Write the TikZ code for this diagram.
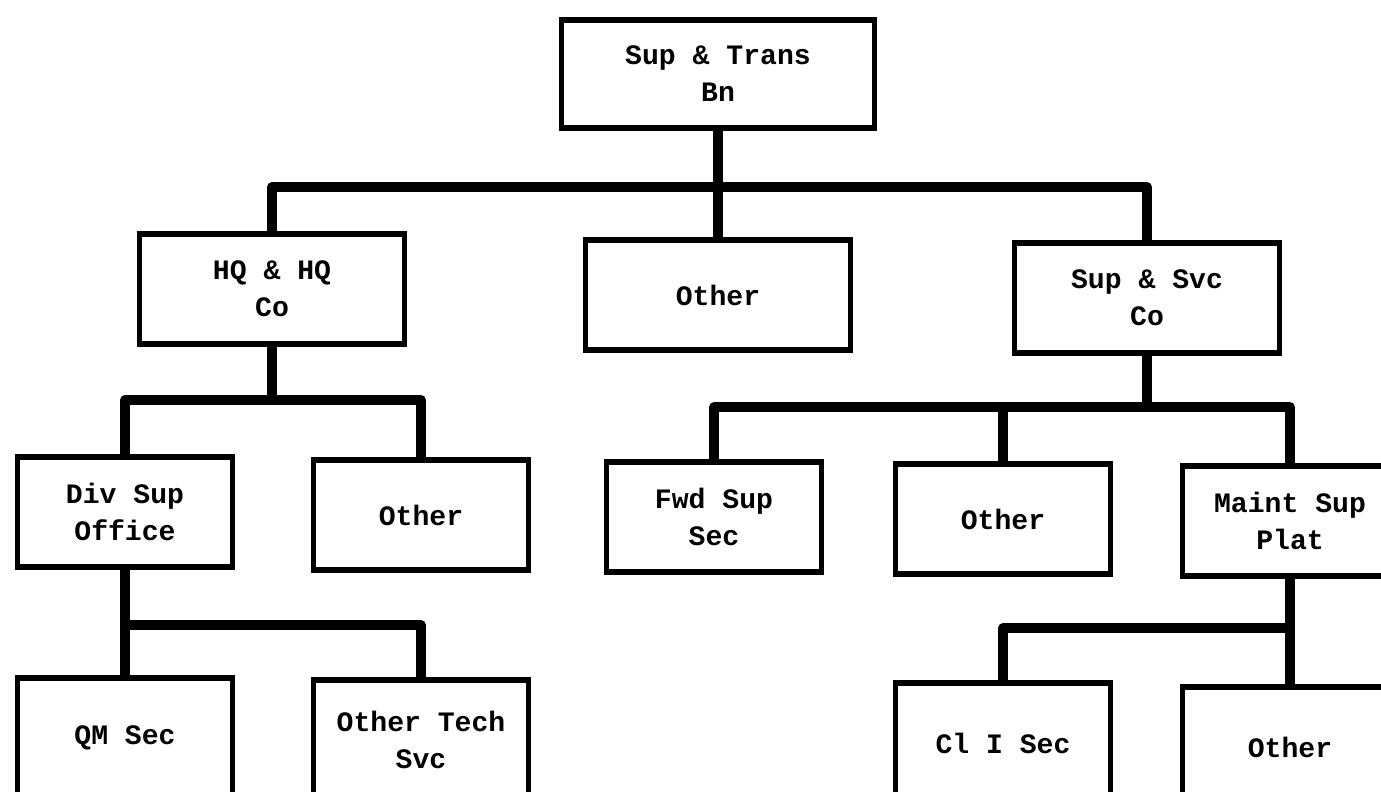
\documentclass[tikz,border=0pt]{standalone}
\usepackage{fontspec}
\setmonofont{Liberation Mono}
\usepackage{tikz}
\usetikzlibrary{positioning}

\begin{document}
\begin{tikzpicture}[
    x=0.02cm, y=-0.02cm,
    unitbox/.style={rectangle, draw=black, line width=3pt, fill=white, font=\ttfamily\bfseries\fontsize{16}{21}\selectfont, align=center, inner sep=0pt, minimum height=2.2cm},
    topbox/.style={unitbox, minimum width=6.26cm, minimum height=2.16cm},
    midbox/.style={unitbox, minimum width=5.3cm},
    leafbox/.style={unitbox, minimum width=4.3cm},
    lowbox/.style={leafbox, minimum height=2.4cm},
    conn/.style={line width=5.5pt, black, line join=round}
]
\useasboundingbox (0,0) rectangle (1381,791);

% Battalion
\node[topbox] (bn) at (718,74) {Sup \& Trans\\Bn};

% Companies
\node[midbox] (hq) at (272,289) {HQ \& HQ\\Co};
\node[midbox] (other1) at (718,295) {Other};
\node[midbox] (svc) at (1147,298) {Sup \& Svc\\Co};

\coordinate (bus1) at (718,187);
\draw[conn] (hq.north) |- (bus1) -| (svc.north);
\draw[conn] (bn.south) -- (other1.north);

% HQ & HQ Co elements
\node[leafbox] (dso) at (125,512) {Div Sup\\Office};
\node[leafbox] (other2) at (421,515) {Other};

\coordinate (bus2) at (hq.south |- 0,400);
\draw[conn] (dso.north) |- (bus2) -| (other2.north);
\draw[conn] (hq.south) -- (bus2);

% Sup & Svc Co elements
\node[leafbox] (fwd) at (714,517) {Fwd Sup\\Sec};
\node[leafbox] (other3) at (1003,519) {Other};
\node[leafbox] (msp) at (1290,521) {Maint Sup\\Plat};

\coordinate (bus3) at (svc.south |- 0,407);
\draw[conn] (fwd.north) |- (bus3) -| (msp.north);
\draw[conn] (svc.south) -- (bus3);
\draw[conn] (other3.north) -- (other3.north |- bus3);

% Div Sup Office sections
\node[lowbox] (qm) at (125,738) {QM Sec};
\node[lowbox] (ots) at (421,740) {Other Tech\\Svc};

\coordinate (bus4) at (dso.south |- 0,625);
\draw[conn] (dso.south) -- (qm.north);
\draw[conn] (bus4) -| (ots.north);

% Maint Sup Plat sections
\node[lowbox] (cl1) at (1003,743) {Cl I Sec};
\node[lowbox] (other4) at (1290,747) {Other};

\coordinate (bus5) at (msp.south |- 0,628);
\draw[conn] (msp.south) -- (other4.north);
\draw[conn] (bus5) -| (cl1.north);

\end{tikzpicture}
\end{document}
